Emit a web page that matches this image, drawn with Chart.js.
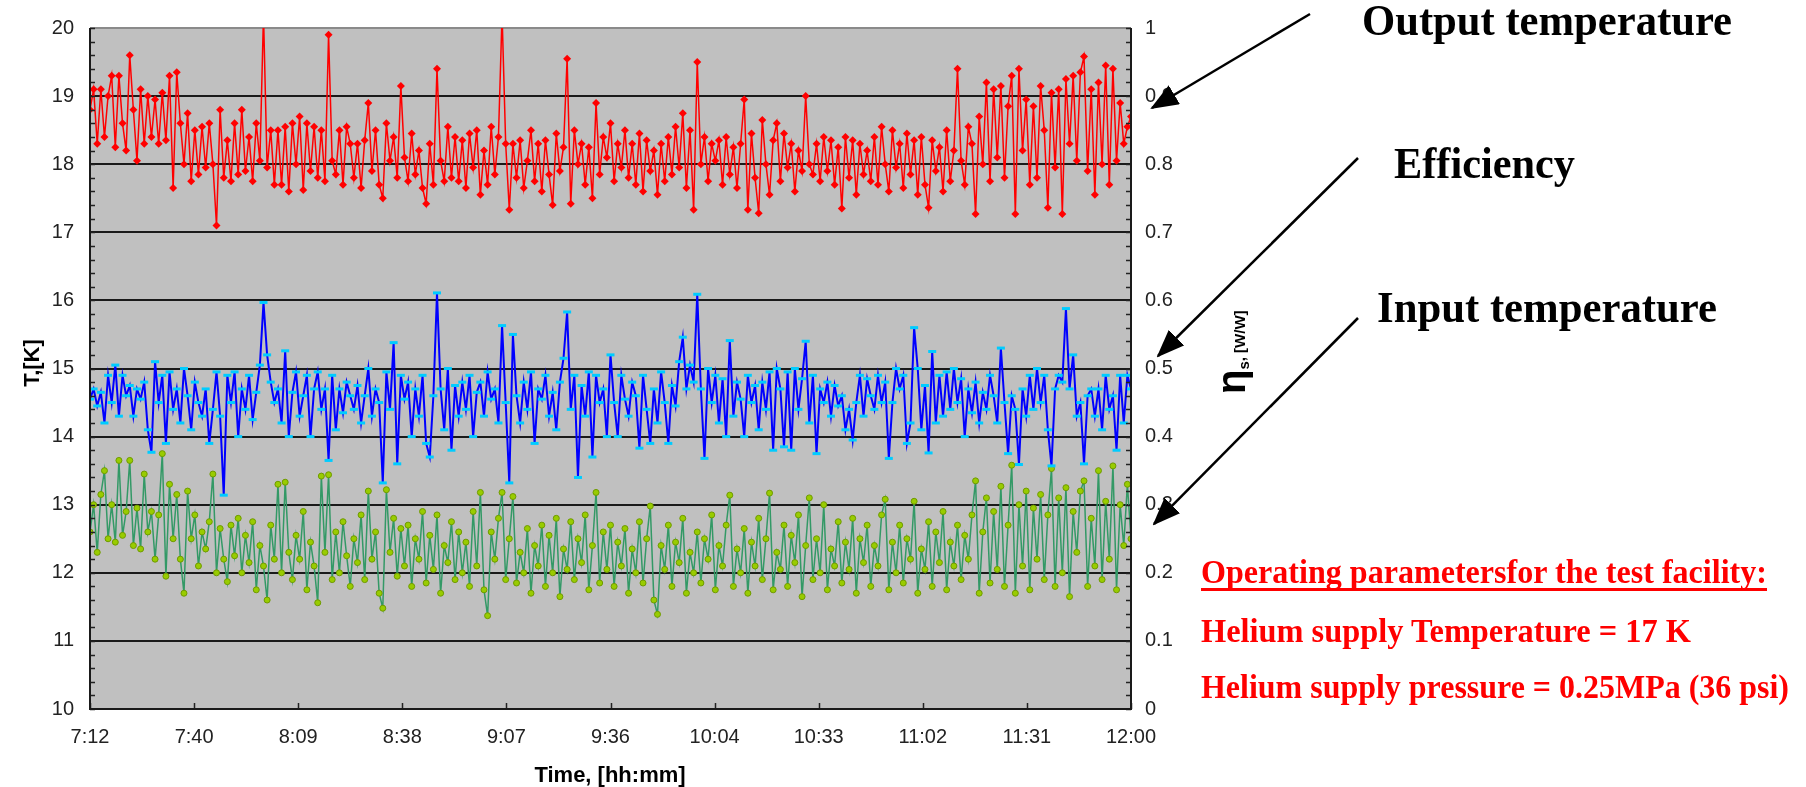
<!DOCTYPE html>
<html>
<head>
<meta charset="utf-8">
<script src="https://cdn.jsdelivr.net/npm/chart.js@4.4.0/dist/chart.umd.min.js"></script>
<style>
  html, body { margin: 0; padding: 0; background: #fff; }
  #wrap { position: relative; width: 1806px; height: 787px; }
  #wrap canvas, #wrap svg { position: absolute; left: 0; top: 0; }
</style>
</head>
<body>
<div id="wrap">
  <canvas id="chart" width="1806" height="787"></canvas>
  <svg width="1806" height="787" xmlns="http://www.w3.org/2000/svg">
    <defs>
      <marker id="head" markerUnits="userSpaceOnUse" markerWidth="28" markerHeight="22" refX="26" refY="11" orient="auto">
        <path d="M0,0 L28,11 L0,22 z" fill="#000"/>
      </marker>
    </defs>
    <g stroke="#000" stroke-width="2.5" fill="none">
      <line x1="1310" y1="14" x2="1152" y2="108" marker-end="url(#head)"/>
      <line x1="1358" y1="158" x2="1158" y2="356" marker-end="url(#head)"/>
      <line x1="1358" y1="318" x2="1154" y2="524" marker-end="url(#head)"/>
    </g>
    <g font-family="'Liberation Serif', 'Times New Roman', serif" font-weight="bold" fill="#000" font-size="45">
      <text x="1362" y="35" textLength="370" lengthAdjust="spacingAndGlyphs">Output temperature</text>
      <text x="1394" y="178" textLength="181" lengthAdjust="spacingAndGlyphs">Efficiency</text>
      <text x="1377" y="322" textLength="340" lengthAdjust="spacingAndGlyphs">Input temperature</text>
    </g>
    <g font-family="'Liberation Serif', 'Times New Roman', serif" font-weight="bold" fill="#ff0000" font-size="33">
      <text x="1201" y="583" textLength="566" lengthAdjust="spacingAndGlyphs">Operating parametersfor the test facility:</text>
      <text x="1201" y="642" textLength="490" lengthAdjust="spacingAndGlyphs">Helium supply Temperature = 17 K</text>
      <text x="1201" y="698" textLength="588" lengthAdjust="spacingAndGlyphs">Helium supply pressure = 0.25MPa (36 psi)</text>
    </g>
    <rect x="1201" y="588" width="566" height="3" fill="#ff0000"/>
    <g font-family="'Liberation Sans', Arial, sans-serif" font-weight="bold" fill="#000">
      <text transform="translate(39,363) rotate(-90)" text-anchor="middle" font-size="22">T,[K]</text>
      <text x="610" y="782" text-anchor="middle" font-size="22">Time, [hh:mm]</text>
      <text transform="translate(1245,394) rotate(-90)" font-size="15"><tspan font-size="40">η</tspan><tspan dy="4">s</tspan><tspan dy="-4">, [W/W]</tspan></text>
    </g>
  </svg>
</div>
<script>
// one sample per minute, 7:12 (432 min) to 12:00 (720 min)
const startMinute = 432;
const sampleStep = 1;

const xTickMinutes = [432, 460.8, 489.6, 518.4, 547.2, 576, 604.8, 633.6, 662.4, 691.2, 720];
const xTickLabels = ["7:12", "7:40", "8:09", "8:38", "9:07", "9:36", "10:04", "10:33", "11:02", "11:31", "12:00"];

// output temperature, K (left axis)
const outputTemp = [
  18.8, 19.1, 18.3, 19.1, 18.4, 19.0, 19.3, 18.25, 19.3, 18.6, 18.2, 19.6,
  18.8, 18.05, 19.1, 18.3, 19.0, 18.4, 18.95, 18.3, 19.05, 18.35, 19.3, 17.65,
  19.35, 18.6, 18.0, 18.75, 17.75, 18.5, 17.85, 18.55, 17.95, 18.6, 18.0, 17.1,
  18.8, 17.8, 18.35, 17.75, 18.6, 17.85, 18.8, 17.9, 18.4, 17.75, 18.6, 18.05,
  20.2, 17.95, 18.5, 17.7, 18.5, 17.7, 18.55, 17.6, 18.6, 18.0, 18.7, 17.62,
  18.6, 17.9, 18.55, 17.8, 18.5, 17.75, 19.9, 18.05, 17.85, 18.5, 17.7, 18.55,
  18.3, 17.8, 18.3, 17.65, 18.35, 18.9, 17.9, 18.5, 17.7, 17.5, 18.6, 18.05,
  18.4, 17.8, 19.15, 18.1, 17.75, 18.45, 17.85, 18.2, 17.65, 17.42, 18.3, 17.7,
  19.4, 18.05, 17.75, 18.55, 17.8, 18.4, 17.75, 18.35, 17.65, 18.45, 17.95, 18.5,
  17.55, 18.2, 17.7, 18.55, 17.85, 18.4, 20.2, 18.3, 17.33, 18.3, 17.8, 18.35,
  17.65, 18.05, 18.5, 17.75, 18.3, 17.6, 18.35, 17.85, 17.4, 18.45, 17.9, 18.25,
  19.55, 17.42, 18.5, 18.0, 18.3, 17.7, 18.25, 17.5, 18.9, 17.85, 18.4, 18.1,
  18.6, 17.75, 18.3, 17.95, 18.5, 17.8, 18.3, 17.7, 18.45, 17.6, 18.35, 17.9,
  18.2, 17.55, 18.3, 17.75, 18.4, 17.85, 18.55, 17.95, 18.75, 17.65, 18.5, 17.33,
  19.5, 18.0, 18.4, 17.75, 18.3, 18.05, 18.35, 17.7, 18.4, 17.85, 18.25, 17.65,
  18.3, 18.95, 17.33, 18.45, 17.8, 17.28, 18.65, 18.0, 17.55, 18.35, 18.6, 17.75,
  18.45, 17.95, 18.3, 17.6, 18.2, 17.9, 19.0, 18.0, 17.85, 18.3, 17.75, 18.4,
  17.9, 18.35, 17.7, 18.25, 17.35, 18.4, 17.8, 18.35, 17.55, 18.3, 17.85, 18.2,
  17.75, 18.4, 17.7, 18.55, 18.0, 17.6, 18.5, 17.95, 18.3, 17.65, 18.45, 17.85,
  18.35, 17.55, 18.4, 17.7, 17.36, 18.35, 17.9, 18.25, 17.6, 18.5, 17.75, 18.2,
  19.4, 18.05, 17.7, 18.55, 18.3, 17.27, 18.7, 18.0, 19.2, 17.75, 19.1, 18.1,
  19.15, 17.8, 18.85, 19.3, 17.27, 19.4, 18.2, 18.95, 17.7, 18.85, 17.8, 19.15,
  18.5, 17.36, 19.05, 17.95, 19.1, 17.27, 19.25, 18.3, 19.3, 18.05, 19.35, 19.58,
  17.9, 19.1, 17.55, 19.2, 18.0, 19.45, 17.7, 19.4, 18.05, 18.9, 18.3, 18.55,
  18.7
];

// efficiency, W/W (right axis)
const efficiency = [
  0.455, 0.47, 0.445, 0.465, 0.42, 0.49, 0.45, 0.505, 0.43, 0.49, 0.46, 0.475,
  0.43, 0.47, 0.455, 0.48, 0.41, 0.377, 0.51, 0.45, 0.49, 0.39, 0.495, 0.44,
  0.47, 0.42, 0.50, 0.46, 0.41, 0.48, 0.45, 0.43, 0.47, 0.39, 0.44, 0.495,
  0.43, 0.314, 0.49, 0.45, 0.495, 0.40, 0.47, 0.44, 0.49, 0.425, 0.465, 0.505,
  0.597, 0.52, 0.48, 0.45, 0.47, 0.42, 0.526, 0.40, 0.465, 0.495, 0.43, 0.46,
  0.49, 0.40, 0.47, 0.495, 0.44, 0.47, 0.365, 0.49, 0.41, 0.47, 0.435, 0.48,
  0.46, 0.44, 0.475, 0.42, 0.46, 0.50, 0.43, 0.47, 0.45, 0.332, 0.495, 0.44,
  0.538, 0.36, 0.49, 0.455, 0.48, 0.40, 0.47, 0.43, 0.49, 0.39, 0.37, 0.46,
  0.611, 0.47, 0.41, 0.50, 0.38, 0.475, 0.43, 0.48, 0.44, 0.49, 0.40, 0.465,
  0.48, 0.43, 0.495, 0.455, 0.47, 0.42, 0.563, 0.45, 0.332, 0.55, 0.46, 0.42,
  0.48, 0.44, 0.495, 0.39, 0.47, 0.455, 0.49, 0.43, 0.465, 0.41, 0.48, 0.515,
  0.583, 0.44, 0.49, 0.34, 0.475, 0.43, 0.495, 0.37, 0.49, 0.45, 0.47, 0.40,
  0.52, 0.45, 0.40, 0.49, 0.455, 0.43, 0.48, 0.46, 0.383, 0.49, 0.44, 0.39,
  0.47, 0.42, 0.495, 0.45, 0.39, 0.475, 0.445, 0.51, 0.546, 0.47, 0.505, 0.48,
  0.609, 0.47, 0.368, 0.50, 0.45, 0.49, 0.42, 0.485, 0.40, 0.541, 0.43, 0.48,
  0.455, 0.40, 0.49, 0.45, 0.475, 0.41, 0.48, 0.44, 0.495, 0.38, 0.50, 0.47,
  0.385, 0.495, 0.38, 0.50, 0.44, 0.485, 0.54, 0.42, 0.49, 0.375, 0.47, 0.45,
  0.48, 0.43, 0.475, 0.445, 0.46, 0.41, 0.44, 0.395, 0.45, 0.49, 0.43, 0.485,
  0.46, 0.44, 0.49, 0.45, 0.48, 0.368, 0.45, 0.50, 0.47, 0.49, 0.39, 0.42,
  0.56, 0.50, 0.41, 0.475, 0.376, 0.525, 0.42, 0.49, 0.43, 0.495, 0.44, 0.50,
  0.45, 0.485, 0.40, 0.47, 0.435, 0.48, 0.42, 0.465, 0.44, 0.49, 0.46, 0.42,
  0.53, 0.45, 0.375, 0.46, 0.44, 0.359, 0.47, 0.43, 0.49, 0.44, 0.50, 0.45,
  0.49, 0.41, 0.357, 0.47, 0.49, 0.48, 0.588, 0.47, 0.52, 0.43, 0.45, 0.36,
  0.46, 0.47, 0.43, 0.47, 0.41, 0.49, 0.44, 0.46, 0.38, 0.49, 0.42, 0.49,
  0.47
];

// input temperature, K (left axis)
const inputTemp = [
  12.6, 13.0, 12.3, 13.15, 13.5, 12.5, 13.0, 12.45, 13.65, 12.55, 12.9, 13.65,
  12.4, 12.95, 12.35, 13.45, 12.6, 12.9, 12.2, 12.85, 13.75, 11.95, 13.3, 12.5,
  13.15, 12.2, 11.7, 13.2, 12.5, 12.85, 12.1, 12.6, 12.35, 12.75, 13.45, 12.0,
  12.65, 12.2, 11.87, 12.7, 12.25, 12.8, 12.0, 12.55, 12.15, 12.75, 11.75, 12.4,
  12.1, 11.6, 12.7, 12.2, 13.3, 12.0, 13.33, 12.3, 11.9, 12.55, 12.2, 12.9,
  11.75, 12.45, 12.1, 11.56, 13.42, 12.3, 13.44, 11.9, 12.6, 12.0, 12.75, 12.25,
  11.8, 12.5, 12.15, 12.85, 11.9, 13.2, 12.2, 12.6, 11.7, 11.48, 13.22, 12.3,
  12.8, 11.95, 12.65, 12.1, 12.7, 11.8, 12.5, 12.2, 12.9, 11.85, 12.55, 12.05,
  12.85, 11.7, 12.4, 12.15, 12.75, 11.9, 12.6, 12.0, 12.45, 11.8, 12.9, 12.1,
  13.18, 11.75, 11.37, 12.6, 12.2, 12.8, 13.18, 11.9, 12.5, 13.12, 11.85, 12.3,
  12.0, 12.65, 11.7, 12.4, 12.1, 12.7, 11.8, 12.55, 12.0, 12.8, 11.65, 12.35,
  12.05, 12.75, 11.9, 12.5, 12.15, 12.85, 11.75, 12.4, 13.18, 11.85, 12.6, 12.05,
  12.7, 11.8, 12.45, 12.1, 12.65, 11.7, 12.35, 12.0, 12.75, 11.85, 12.5, 12.98,
  11.6, 11.39, 12.4, 12.05, 12.7, 11.8, 12.45, 12.15, 12.8, 11.7, 12.3, 12.0,
  12.6, 11.85, 12.5, 12.2, 12.85, 11.75, 12.4, 12.1, 12.7, 13.14, 11.8, 12.35,
  12.0, 12.65, 11.7, 12.45, 12.1, 12.8, 11.9, 12.5, 13.17, 11.75, 12.3, 12.05,
  12.7, 11.8, 12.55, 12.15, 12.85, 11.65, 12.4, 13.1, 11.9, 12.5, 12.0, 13.0,
  11.75, 12.35, 12.1, 12.75, 11.85, 12.45, 12.05, 12.8, 11.7, 12.5, 12.15, 12.7,
  11.8, 12.4, 12.1, 12.85, 13.08, 11.75, 12.45, 12.0, 12.7, 11.85, 12.5, 12.2,
  13.05, 11.7, 12.35, 12.05, 12.75, 11.8, 12.6, 12.15, 12.9, 11.75, 12.45, 12.1,
  12.7, 11.9, 12.55, 12.2, 12.85, 13.35, 11.7, 12.6, 13.1, 11.85, 12.9, 12.05,
  13.27, 11.8, 12.7, 13.58, 11.7, 13.0, 12.1, 13.2, 11.75, 12.95, 12.2, 13.15,
  11.9, 12.85, 13.53, 11.8, 13.1, 12.0, 13.25, 11.65, 12.9, 12.3, 13.2, 13.35,
  11.8, 12.8, 12.1, 13.5, 11.9, 13.05, 12.2, 13.57, 11.75, 13.0, 12.4, 13.3,
  12.5
];

const toPoints = values => values.map((v, i) => ({ x: startMinute + i * sampleStep, y: v }));

const tickFont = { family: "'Liberation Sans', Arial, sans-serif", size: 20 };

// grey plot area, axis lines and the small inside tick marks
const plotFrame = {
  id: "plotFrame",
  beforeDraw(chart) {
    const { ctx, chartArea: a } = chart;
    ctx.save();
    ctx.fillStyle = "#c0c0c0";
    ctx.fillRect(a.left, a.top, a.right - a.left, a.bottom - a.top);
    ctx.restore();
  },
  afterDraw(chart) {
    const { ctx, chartArea: a, scales } = chart;
    ctx.save();
    ctx.strokeStyle = "#222";
    ctx.lineWidth = 1.5;
    ctx.beginPath();
    for (let v = 10; v <= 20.001; v += 0.2) {
      const y = Math.round(scales.y.getPixelForValue(v)) + 0.5;
      ctx.moveTo(a.left, y);
      ctx.lineTo(a.left + 5, y);
      ctx.moveTo(a.right, y);
      ctx.lineTo(a.right - 5, y);
    }
    xTickMinutes.forEach(m => {
      const x = Math.round(scales.x.getPixelForValue(m)) + 0.5;
      ctx.moveTo(x, a.bottom);
      ctx.lineTo(x, a.bottom - 6);
    });
    ctx.stroke();

    ctx.lineWidth = 2;
    ctx.strokeStyle = "#1a1a1a";
    ctx.beginPath();
    ctx.moveTo(a.left, a.top);
    ctx.lineTo(a.left, a.bottom);
    ctx.lineTo(a.right, a.bottom);
    ctx.lineTo(a.right, a.top);
    ctx.stroke();
    ctx.restore();
  }
};

new Chart(document.getElementById("chart"), {
  type: "line",
  data: {
    datasets: [
      {
        label: "Output temperature",
        data: toPoints(outputTemp),
        yAxisID: "y",
        borderColor: "#ff0000",
        borderWidth: 1.5,
        pointStyle: "rectRot",
        pointRadius: 4,
        pointBackgroundColor: "#ff0000",
        pointBorderColor: "#ff0000",
        pointBorderWidth: 0
      },
      {
        label: "Efficiency",
        data: toPoints(efficiency),
        yAxisID: "y1",
        borderColor: "#0000ff",
        borderWidth: 2,
        pointStyle: "line",
        pointRadius: 4,
        pointBorderColor: "#00ccff",
        pointBorderWidth: 3
      },
      {
        label: "Input temperature",
        data: toPoints(inputTemp),
        yAxisID: "y",
        borderColor: "#339966",
        borderWidth: 1.5,
        pointStyle: "circle",
        pointRadius: 3,
        pointBackgroundColor: "#99cc00",
        pointBorderColor: "#6f9a00",
        pointBorderWidth: 1
      }
    ]
  },
  options: {
    responsive: false,
    animation: false,
    layout: { padding: { top: 16, right: 555, left: 0, bottom: 0 } },
    plugins: { legend: { display: false }, tooltip: { enabled: false } },
    elements: { line: { tension: 0 } },
    scales: {
      x: {
        type: "linear",
        min: 432,
        max: 720,
        afterBuildTicks: scale => { scale.ticks = xTickMinutes.map(v => ({ value: v })); },
        afterFit: scale => { scale.height = 78; },
        ticks: {
          autoSkip: false,
          maxRotation: 0,
          padding: 16,
          color: "#222",
          font: tickFont,
          callback: (value, index) => xTickLabels[index]
        },
        grid: { display: false, drawTicks: false },
        border: { display: false }
      },
      y: {
        position: "left",
        min: 10,
        max: 20,
        afterFit: scale => { scale.width = 90; },
        ticks: { stepSize: 1, padding: 16, color: "#222", font: tickFont },
        grid: {
          drawTicks: false,
          lineWidth: 2,
          color: c => (c.tick && c.tick.value === 20 ? "#8a8a8a" : "#1a1a1a")
        },
        border: { display: false }
      },
      y1: {
        position: "right",
        min: 0,
        max: 1,
        afterFit: scale => { scale.width = 120; },
        ticks: {
          stepSize: 0.1,
          padding: 14,
          color: "#222",
          font: tickFont,
          callback: v => String(+v.toFixed(1))
        },
        grid: { display: false, drawTicks: false },
        border: { display: false }
      }
    }
  },
  plugins: [plotFrame]
});
</script>
</body>
</html>
